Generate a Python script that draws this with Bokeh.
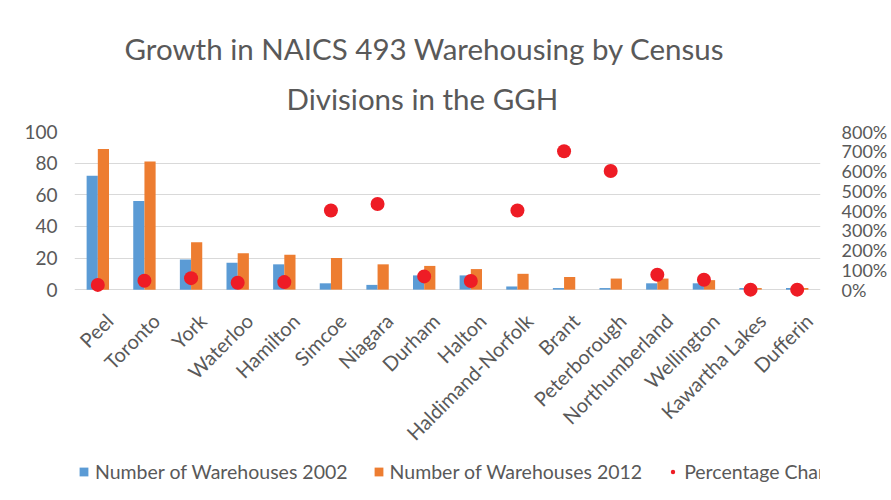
import math
from bokeh.plotting import figure
from bokeh.models import (Range1d, LinearAxis, FixedTicker, PrintfTickFormatter,
                          Legend, LegendItem, Title, ColumnDataSource)
from bokeh.core.properties import value
from bokeh.transform import dodge
from bokeh.embed import file_html
from bokeh.resources import INLINE

divisions = ["Peel", "Toronto", "York", "Waterloo", "Hamilton", "Simcoe", "Niagara",
             "Durham", "Halton", "Haldimand-Norfolk", "Brant", "Peterborough",
             "Northumberland", "Wellington", "Kawartha Lakes", "Dufferin"]
warehouses_2002 = [72, 56, 19, 17, 16, 4, 3, 9, 9, 2, 1, 1, 4, 4, 1, 1]
warehouses_2012 = [89, 81, 30, 23, 22, 20, 16, 15, 13, 10, 8, 7, 7, 6, 1, 1]
pct_change = [24, 45, 58, 35, 38, 400, 433, 67, 44, 400, 700, 600, 75, 50, 0, 0]
left_ticks = [0, 20, 40, 60, 80, 100]
right_ticks = [0, 100, 200, 300, 400, 500, 600, 700, 800]

FONT = "Lato"
GREY = "#595959"

src = ColumnDataSource(dict(cat=divisions, w02=warehouses_2002,
                            w12=warehouses_2012, pct=pct_change))

# the frame extends below zero so labels and legend can sit inside it
LOW = -133.35
p = figure(x_range=divisions, y_range=Range1d(LOW, 100),
           frame_width=746, frame_height=369, x_axis_location=None,
           output_backend="svg", toolbar_location=None,
           min_border_left=74, min_border_right=71, min_border_top=131,
           min_border_bottom=0)
p.title = None
p.outline_line_color = None
p.extra_y_ranges = {"pct": Range1d(LOW * 8, 800)}

b1 = p.vbar(x=dodge("cat", -0.12, range=p.x_range), top="w02", width=0.24,
            source=src, fill_color="#5B9BD5", line_color=None)
b2 = p.vbar(x=dodge("cat", 0.12, range=p.x_range), top="w12", width=0.24,
            source=src, fill_color="#ED7D31", line_color=None)
dots = p.scatter(x="cat", y="pct", y_range_name="pct", source=src, size=14,
                 fill_color="#EE1C25", line_color=None)

# category labels
p.text(x="cat", y=-12, text="cat", source=src, angle=math.pi / 4,
       text_align="right", text_baseline="top", x_offset=3,
       text_font=value(FONT), text_font_size=value("20px"), text_color=GREY)

# grid
for g in p.xgrid:
    g.visible = False
p.ygrid.grid_line_color = "#d9d9d9"
p.ygrid.grid_line_width = 1
p.yaxis.ticker = FixedTicker(ticks=left_ticks)

# right percentage axis
right = LinearAxis(y_range_name="pct", ticker=FixedTicker(ticks=right_ticks),
                   formatter=PrintfTickFormatter(format="%d%%"))
p.add_layout(right, "right")

for ax in [p.yaxis[0], right]:
    ax.axis_line_color = None
    ax.major_tick_line_color = None
    ax.minor_tick_line_color = None
    ax.major_tick_in = 0
    ax.major_tick_out = 0
    ax.minor_tick_in = 0
    ax.minor_tick_out = 0
    ax.major_label_text_font = FONT
    ax.major_label_text_color = GREY

p.yaxis[0].major_label_text_font_size = "19px"
p.yaxis[0].major_label_standoff = 17
right.major_label_text_font_size = "18px"
right.major_label_standoff = 21

# titles
t2 = Title(text="Divisions in the GGH", align="left", text_font=FONT,
           text_font_size="29.5px", text_font_style="normal", text_color=GREY,
           offset=212, standoff=28, vertical_align="top")
t1 = Title(text="Growth in NAICS 493 Warehousing by Census", align="left",
           text_font=FONT, text_font_size="29.5px", text_font_style="normal",
           text_color=GREY, offset=50, standoff=2)
p.add_layout(t2, "above")
p.add_layout(t1, "above")

legend = Legend(items=[LegendItem(label="Number of Warehouses 2002", renderers=[b1]),
                       LegendItem(label="Number of Warehouses 2012", renderers=[b2]),
                       LegendItem(label="Percentage Change", renderers=[dots])],
                orientation="horizontal", location=(4, 17))
legend.label_text_font = FONT
legend.label_text_font_size = "19.5px"
legend.label_text_color = GREY
legend.glyph_width = 11
legend.glyph_height = 11
legend.label_standoff = 6
legend.spacing = 25
legend.padding = 0
legend.margin = 0
legend.border_line_color = None
legend.background_fill_alpha = 0
p.add_layout(legend, "center")

open("out.html", "w").write(file_html(p, INLINE))
